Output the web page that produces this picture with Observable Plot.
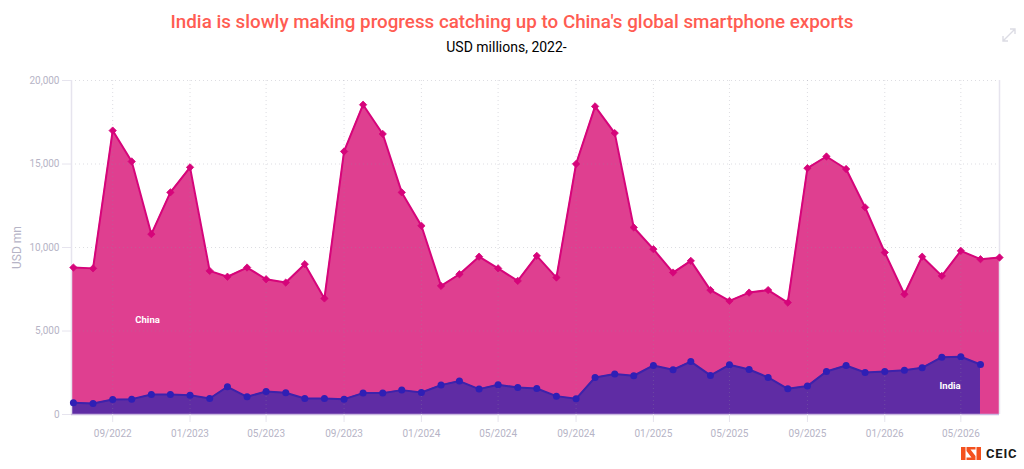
<!DOCTYPE html>
<html>
<head>
<meta charset="utf-8">
<script src="https://cdn.jsdelivr.net/npm/d3@7"></script>
<script src="https://cdn.jsdelivr.net/npm/@observablehq/plot@0.6"></script>
<style>
html,body{margin:0;padding:0;background:#fff;overflow:hidden}
#wrap{position:relative;width:1024px;height:469px;font-family:Roboto,sans-serif}
#title{position:absolute;left:0;right:0;top:10px;text-align:center;font-size:18.8px;font-weight:500;color:#ff5c52;line-height:24px}
#sub{position:absolute;left:0;width:1013px;top:38px;text-align:center;font-size:14px;color:#000;line-height:18px}
#chart{position:absolute;left:0;top:60px}
#chart svg{display:block;overflow:visible}
#expand{position:absolute;left:1001px;top:27px}
#logo{position:absolute;left:961px;top:447px}
#logotext{position:absolute;left:986px;top:446px;font-size:13px;font-weight:700;color:#1a1a1a;letter-spacing:.8px;line-height:15px}
</style>
</head>
<body>
<div id="wrap">
  <div id="title">India is slowly making progress catching up to China's global smartphone exports</div>
  <div id="sub">USD millions, 2022-</div>
  <div id="chart"></div>
  <svg id="expand" width="16" height="16" viewBox="0 0 16 16" fill="none" stroke="#dcdce4" stroke-width="1.4"><path d="M2 14L14 2M9 2h5v5M2 9v5h5"/></svg>
  <svg id="logo" width="20" height="13" viewBox="0 0 20 13"><g fill="#f4511e"><rect width="4.5" height="13"/><rect x="15.5" width="4.5" height="13"/><path d="M5.5 0H14.5V2.6H9.5L14.5 9V13H5.5V10.4H10.5L5.5 4Z"/></g></svg>
  <div id="logotext">CEIC</div>
</div>
<script>
const months = d3.utcMonths(new Date(Date.UTC(2022, 6, 1)), new Date(Date.UTC(2026, 7, 1)));
const chinaValues = [8800,8750,17000,15150,10800,13300,14800,8600,8250,8800,8100,7900,9000,6950,15750,18550,16800,13300,11300,7700,8400,9450,8750,8000,9500,8200,15000,18450,16850,11200,9900,8500,9200,7450,6800,7300,7450,6700,14750,15450,14700,12400,9700,7200,9450,8300,9800,9300,9400];
const indiaValues = [700,660,900,920,1200,1200,1160,960,1660,1060,1380,1300,960,960,920,1280,1280,1460,1320,1760,2000,1520,1780,1620,1560,1100,940,2220,2420,2320,2940,2680,3170,2340,2975,2695,2220,1540,1700,2575,2935,2515,2575,2655,2795,3435,3455,2995];
const yTicks = [0,5000,10000,15000,20000];
const xTickLabels = ["2022-09","2023-01","2023-05","2023-09","2024-01","2024-05","2024-09","2025-01","2025-05","2025-09","2026-01","2026-05"];
const xDomain = [new Date(Date.UTC(2022,5,28)), new Date(Date.UTC(2026,6,1))];
const seriesLabels = [
  {date:new Date(Date.UTC(2022,9,26)), value:5690, label:"China"},
  {date:new Date(Date.UTC(2026,3,14)), value:1680, label:"India"}
];

const china = chinaValues.map((value,i)=>({date:months[i],value}));
const india = indiaValues.map((value,i)=>({date:months[i],value}));
// The reference's fills run to the frame, slightly left of the first marker.
const chinaFill = [{date:xDomain[0],value:chinaValues[0]},...china];
const indiaFill = [{date:xDomain[0],value:indiaValues[0]},...india];
const xTicks = xTickLabels.map(s=>new Date(s+"-01T00:00:00Z"));

const axisColor = "#e6e4ee";
const labelColor = "#b6b4c6";
const grid = "#8f8f9f";

const plot = Plot.plot({
  width:1024, height:409,
  marginTop:20, marginBottom:55, marginLeft:71, marginRight:25,
  style:{fontFamily:"Roboto, sans-serif", fontSize:"10px", background:"transparent", overflow:"visible"},
  x:{type:"utc", domain:xDomain},
  y:{domain:[0,20000]},
  marks:[
    Plot.areaY(chinaFill,{x:"date",y:"value",fill:"#df3f90",curve:"linear"}),
    Plot.areaY(indiaFill,{x:"date",y:"value",fill:"#5f2ca4",curve:"linear"}),
    Plot.gridY(yTicks,{stroke:grid,strokeOpacity:.3,strokeDasharray:"1,3"}),
    Plot.gridX(xTicks,{stroke:grid,strokeOpacity:.3,strokeDasharray:"1,3"}),
    Plot.ruleX([xDomain[0]],{stroke:axisColor,strokeWidth:1.5}),
    Plot.ruleX([xDomain[1]],{stroke:axisColor,strokeWidth:1.5}),
    Plot.ruleY([0],{stroke:"#c9b8e0",strokeWidth:1.5}),
    Plot.lineY(china,{x:"date",y:"value",stroke:"#d6047a",strokeWidth:2,curve:"linear"}),
    Plot.lineY(india,{x:"date",y:"value",stroke:"#3d22ab",strokeWidth:2,curve:"linear"}),
    Plot.dot(china,{x:"date",y:"value",symbol:"diamond2",r:3.3,fill:"#d6047a",stroke:"#d6047a",strokeWidth:.8}),
    Plot.dot(india,{x:"date",y:"value",symbol:"circle",r:3.5,fill:"#2f1fb5"}),
    Plot.text(seriesLabels,{x:"date",y:"value",text:"label",fill:"#fff",fontWeight:700,fontSize:9.5}),
    Plot.axisY({ticks:yTicks,tickFormat:d3.format(","),tickSize:9,tickPadding:3,stroke:axisColor,fill:labelColor,fontSize:10,label:null}),
    Plot.axisX({ticks:xTicks,tickFormat:d3.utcFormat("%m/%Y"),tickSize:8,tickPadding:7,stroke:axisColor,fill:labelColor,fontSize:10,label:null}),
    Plot.text(["USD mn"],{frameAnchor:"left",textAnchor:"middle",dx:-54,rotate:-90,fill:labelColor,fontSize:12})
  ]
});
document.getElementById("chart").append(plot);
</script>
</body>
</html>
